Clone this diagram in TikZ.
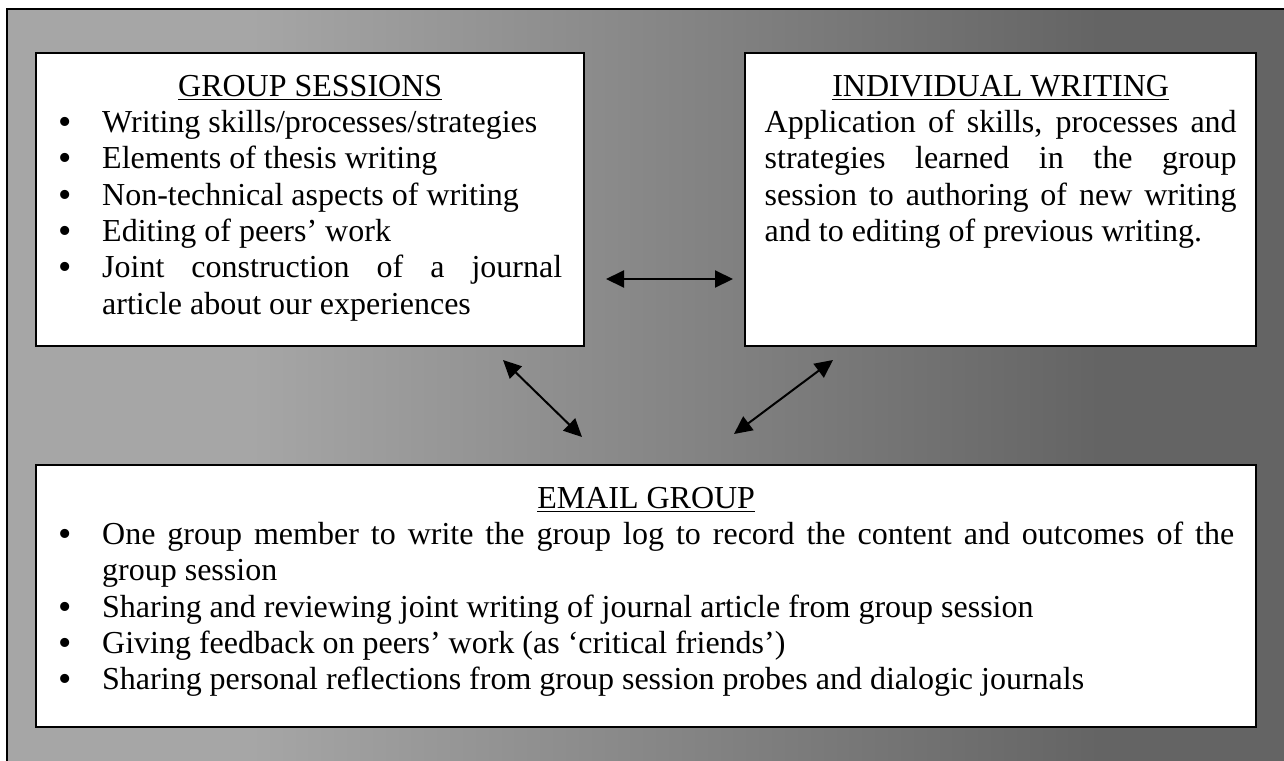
\documentclass[tikz,border=0pt]{standalone}
\usepackage{fontspec}
\setmainfont{Liberation Serif}
\usetikzlibrary{arrows.meta}

\definecolor{bglight}{HTML}{A6A6A6}
\definecolor{bgdark}{HTML}{646464}

% bullet list for the panels
\newcommand{\bigdot}{\raisebox{-1pt}{\fontsize{19pt}{19pt}\selectfont\textbullet}}
\newenvironment{dotlist}{\begin{list}{\bigdot}{%
  \setlength{\leftmargin}{22pt}\setlength{\labelwidth}{22pt}%
  \setlength{\labelsep}{0pt}\setlength{\itemsep}{0pt}%
  \setlength{\parsep}{0pt}\setlength{\topsep}{0pt}%
  \setlength{\partopsep}{0pt}%
  \renewcommand{\makelabel}[1]{##1\hfil}}}{\end{list}}
\newcommand{\paneltitle}[1]{{\centering\rule{0pt}{21.5pt}\underline{#1}\par}}

\tikzset{
  panel/.style={draw,fill=white,line width=1.2pt,anchor=north west,
    inner xsep=11pt,inner ysep=0pt,
    font=\fontsize{16pt}{18.15pt}\selectfont},
  link/.style={{Triangle[length=9pt,width=8.5pt]}-{Triangle[length=9pt,width=8.5pt]},
    line width=1pt}
}

\begin{document}
\begin{tikzpicture}[x=0.5pt,y=-0.5pt]
  \clip (0,0) rectangle (1284,760);

  % background frame with grey gradient
  \fill[bgdark] (7,9) rectangle (1290,770);
  \fill[bglight] (7,9) rectangle (250.5,770);
  \shade[left color=bglight,right color=bgdark] (250,9) rectangle (1100,770);
  \draw[line width=1pt] (7,9) rectangle (1290,770);

  % panels
  \node[panel] (sessions) at (35,52) {%
    \begin{minipage}[t][146.5pt][t]{252pt}\hyphenpenalty=10000
      \paneltitle{GROUP SESSIONS}
      \begin{dotlist}
        \item Writing skills/processes/strategies
        \item Elements of thesis writing
        \item Non-technical aspects of writing
        \item Editing of peers' work
        \item Joint construction of a journal\linebreak
              article about our experiences
      \end{dotlist}
    \end{minipage}};

  \node[panel,inner xsep=9.75pt] (writing) at (744,52) {%
    \begin{minipage}[t][146.5pt][t]{236pt}\hyphenpenalty=10000
      \paneltitle{INDIVIDUAL WRITING}
      Application of skills, processes and\linebreak
      strategies learned in the group\linebreak
      session to authoring of new writing\linebreak
      and to editing of previous writing.
    \end{minipage}};

  \node[panel] (email) at (35,464) {%
    \begin{minipage}[t][131pt][t]{588pt}\hyphenpenalty=10000
      \paneltitle{EMAIL GROUP}
      \begin{dotlist}
        \item One group member to write the group log to record the content and outcomes of the\linebreak
              group session
        \item Sharing and reviewing joint writing of journal article from group session
        \item Giving feedback on peers' work (as `critical friends')
        \item Sharing personal reflections from group session probes and dialogic journals
      \end{dotlist}
    \end{minipage}};

  % arrow ends
  \coordinate (hleft) at (606,279);
  \coordinate (hright) at (733,279);
  \coordinate (lup) at (503,360);
  \coordinate (ldown) at (582,437);
  \coordinate (rup) at (833,360);
  \coordinate (rdown) at (734,434);

  \draw[link] (hleft) -- (hright);
  \draw[link] (lup) -- (ldown);
  \draw[link] (rup) -- (rdown);
\end{tikzpicture}
\end{document}
